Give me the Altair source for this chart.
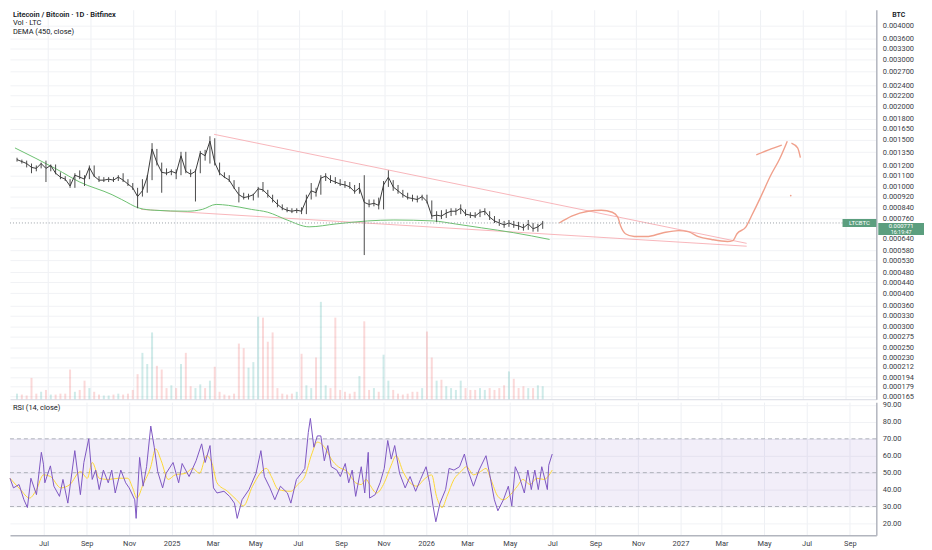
import altair as alt
import pandas as pd

FONT = "Roboto"
W, H1, H2 = 872, 392, 134
START = pd.Timestamp("2024-05-14")
END = pd.Timestamp("2027-10-09")

# ---- weekly candles (LTC/BTC) ----
close = [0.001265,0.001244,0.001223,0.001183,0.001173,0.001223,0.001173,0.001203,0.001125,0.001088,
         0.001069,0.001008,0.001106,0.001088,0.001069,0.001183,0.001097,0.001060,0.001060,0.001069,
         0.001060,0.001088,0.001060,0.001025,0.000992,0.000920,0.000967,0.001088,0.001387,0.001233,
         0.001134,0.001125,0.001144,0.001125,0.001308,0.001144,0.001115,0.001144,0.001341,0.001308,
         0.001483,0.001233,0.001125,0.001088,0.001060,0.000992,0.000935,0.000912,0.000920,0.000935,
         0.000984,0.000975,0.000935,0.000897,0.000860,0.000832,0.000818,0.000811,0.000818,0.000811,
         0.000897,0.000967,0.000951,0.001079,0.001097,0.001060,0.001043,0.001025,0.001017,0.001000,
         0.000959,0.000992,0.000875,0.000860,0.000868,0.000853,0.001017,0.001088,0.001000,0.000967,
         0.000935,0.000912,0.000905,0.000897,0.000920,0.000882,0.000778,0.000784,0.000778,0.000798,
         0.000811,0.000811,0.000832,0.000791,0.000784,0.000778,0.000804,0.000811,0.000771,0.000746,
         0.000733,0.000721,0.000733,0.000721,0.000715,0.000703,0.000727,0.000697,0.000709,0.000733]
high = [0.001286,0.001265,0.001254,0.001223,0.001203,0.001233,0.001254,0.001213,0.001213,0.001134,
        0.001097,0.001069,0.001125,0.001153,0.001106,0.001203,0.001203,0.001097,0.001088,0.001088,
        0.001088,0.001106,0.001125,0.001069,0.001034,0.000992,0.001069,0.001106,0.001458,0.001387,
        0.001233,0.001173,0.001163,0.001163,0.001353,0.001353,0.001163,0.001163,0.001364,0.001376,
        0.001547,0.001521,0.001233,0.001134,0.001106,0.001060,0.001000,0.000951,0.000943,0.000943,
        0.001000,0.001043,0.000975,0.000935,0.000897,0.000860,0.000839,0.000832,0.000832,0.000839,
        0.000935,0.001034,0.000992,0.001106,0.001125,0.001106,0.001088,0.001069,0.001052,0.001043,
        0.001017,0.001034,0.001106,0.000897,0.000897,0.000912,0.001052,0.001153,0.001060,0.001017,
        0.000975,0.000951,0.000935,0.000928,0.000935,0.000935,0.000890,0.000811,0.000818,0.000824,
        0.000832,0.000832,0.000860,0.000824,0.000804,0.000804,0.000824,0.000832,0.000811,0.000778,
        0.000758,0.000746,0.000752,0.000746,0.000740,0.000727,0.000752,0.000733,0.000727,0.000746]
low = [0.001244,0.001223,0.001183,0.001125,0.001144,0.001173,0.001043,0.001144,0.001115,0.001069,
       0.001052,0.000992,0.000992,0.001069,0.001008,0.001069,0.001088,0.001043,0.001043,0.001043,
       0.001043,0.001052,0.001043,0.001008,0.000975,0.000832,0.000920,0.000951,0.001060,0.001203,
       0.000951,0.001106,0.001106,0.001069,0.001106,0.001125,0.001088,0.000882,0.001125,0.001254,
       0.001223,0.001203,0.001106,0.001079,0.001043,0.000984,0.000875,0.000897,0.000897,0.000890,
       0.000912,0.000959,0.000912,0.000875,0.000839,0.000818,0.000804,0.000798,0.000798,0.000791,
       0.000791,0.000897,0.000920,0.000935,0.001052,0.001034,0.001025,0.001008,0.000992,0.000984,
       0.000943,0.000943,0.000556,0.000839,0.000846,0.000824,0.000824,0.001000,0.000967,0.000943,
       0.000912,0.000897,0.000882,0.000875,0.000890,0.000868,0.000758,0.000740,0.000758,0.000765,
       0.000778,0.000784,0.000791,0.000778,0.000765,0.000765,0.000771,0.000784,0.000752,0.000733,
       0.000715,0.000703,0.000709,0.000703,0.000691,0.000686,0.000691,0.000680,0.000680,0.000697]
volume = [6,5,4,23,6,8,10,5,5,6,
          6,32,8,10,20,12,8,5,4,4,
          5,6,5,6,10,27,50,38,72,36,
          32,12,15,12,38,50,14,12,16,12,
          20,35,8,5,4,6,60,55,34,40,
          89,88,62,72,12,6,5,6,8,49,
          15,12,45,105,15,12,88,10,8,6,
          8,25,84,10,12,8,48,20,10,6,
          5,6,8,8,12,73,45,20,21,14,
          12,10,20,12,10,10,12,10,12,10,
          12,15,30,22,12,14,12,12,15,14]

# ---- DEMA (450) ----
dema_days = [0,61,94,141,155,181,202,250,272,292,310,343,367,395,427,466,512,550,607,639,677,724,776]
dema_vals = [0.001399,0.001163,0.001043,0.000935,0.000897,0.000832,0.000818,0.000811,0.000824,0.000860,
             0.000853,0.000824,0.000804,0.000752,0.000709,0.000727,0.000746,0.000752,0.000746,0.000727,
             0.000703,0.000674,0.000636]

# ---- drawings ----
upper_dates = ["2025-02-27", "2027-04-11"]
upper_prices = [0.001573, 0.000615]
lower_dates = ["2024-11-13", "2027-04-11"]
lower_prices = [0.000824, 0.000600]
path_dates = ["2026-07-13","2026-07-31","2026-08-24","2026-09-12","2026-09-28","2026-10-06","2026-10-10",
              "2026-10-17","2026-10-30","2026-11-17","2026-12-11","2027-01-02","2027-01-16","2027-01-31",
              "2027-02-19","2027-03-14","2027-03-22","2027-03-28","2027-04-10","2027-04-18","2027-05-01",
              "2027-05-16","2027-05-29","2027-06-09"]
path_prices = [0.000733,0.000778,0.000811,0.000818,0.000804,0.000771,0.000715,0.000668,0.000652,0.000652,
               0.000674,0.000686,0.000680,0.000652,0.000636,0.000625,0.000630,0.000668,0.000709,0.000778,
               0.000912,0.001106,0.001275,0.001483]
arrow_l_dates = ["2027-04-25", "2027-05-13", "2027-06-01"]
arrow_l_prices = [0.001319, 0.001376, 0.001434]
arrow_r_dates = ["2027-06-15", "2027-06-24", "2027-06-28"]
arrow_r_prices = [0.001458, 0.001399, 0.001286]
dot_dates = ["2027-06-14"]
dot_prices = [0.000928]

# ---- RSI (14) and its MA ----
rsi_days = [0,5,13,20,25,30,38,45,48,50,58,63,71,76,83,93,101,106,113,118,
            123,128,134,141,146,151,159,166,171,179,181,186,191,196,202,207,212,219,224,234,
            242,247,257,267,275,280,287,292,297,307,315,322,326,333,343,353,360,365,373,380,
            388,398,403,411,418,423,428,431,436,441,446,451,456,461,469,474,481,486,491,496,
            504,509,514,516,524,531,537,542,547,552,559,567,574,582,589,597,602,607,611,617,
            625,630,637,645,652,657,665,673,683,688,695,700,708,715,720,725,730,738,743,748,
            753,758,763,771,773,778]
rsi_vals = [46.7,41,43,34,29.4,46.7,37,62,55,44,54,42,36,46,32,63,37,56,70,46,
            51.5,40,51.5,44,51.5,38,51.5,44,41,34,23,59,42,53.5,77.5,65,50.5,41,49.6,56,
            44,55.4,47.7,57,67,56,66,41,38,39,36,32,23,34,40,49.6,63,47.7,41,34,
            42,38,32,46,49.6,52.5,73.7,82,65,71.7,71.7,57,66,53.5,51.5,47.7,55.4,44,51.5,36,
            53.5,38,62,35,37,44,52.5,69,58,66,49.6,41,47.7,39,46,53.5,44,30.4,21,32,
            40,52.5,51.5,53.5,61,51.5,42,51.5,60,49.6,34,27.5,34,42,30.4,53.5,48.7,38,51.5,40,
            51.5,40,53.5,40,54.4,61]
ma_days = [0,15,28,38,48,58,73,86,101,111,118,128,141,156,169,176,182,191,202,209,
           217,227,237,252,262,272,282,290,297,312,325,335,348,368,375,385,403,413,423,433,
           441,453,461,471,484,496,504,511,516,526,537,547,554,564,574,584,594,605,612,620,
           627,637,647,655,665,675,683,690,700,708,718,728,736,746,756,766,778]
ma_vals = [46.7,40,35,40,48.7,47.7,41,43,50.6,46.7,56,46.7,46,46.7,46.7,41,35,43,53.5,64,
           57,46,48.7,49.6,52.5,49.6,60,55.4,44,39,34,30.4,42,52.5,47.7,40,39,43,47.7,61,
           68,64,58,53.5,50.6,44,43,46,43,38,44,54.4,60,50.6,44,42,46,48.7,36,29.4,
           36,46,50.6,53.5,48.7,50.6,52.5,46,36,34,37,42,46,43,46.7,46,51.5]

price_ticks = [0.004, 0.0036, 0.0033, 0.003, 0.0027, 0.0024, 0.0022, 0.002, 0.0018, 0.00165, 0.0015,
               0.00135, 0.0012, 0.0011, 0.001, 0.00092, 0.00084, 0.00076, 0.00064, 0.00058, 0.00053,
               0.00048, 0.00044, 0.0004, 0.00036, 0.00033, 0.0003, 0.000275, 0.00025, 0.00023,
               0.000212, 0.000194, 0.000179, 0.000165]
rsi_ticks = [20, 30, 40, 50, 60, 70, 80, 90]
last_price_label = "0.000771"
countdown_label = "16:19:47"


def ms(ts):
    return int(pd.Timestamp(ts).value // 10**6)


def day_str(offsets):
    return [(START + pd.Timedelta(days=int(d))).strftime("%Y-%m-%d") for d in offsets]


month_ticks = [ms(d) for d in pd.date_range("2024-07-01", "2027-09-01", freq="2MS")]

xsc = alt.Scale(type="utc", domain=[ms(START), ms(END)], nice=False)
ysc = alt.Scale(type="log", domain=[0.0001606, 0.0046], nice=False)
rsc = alt.Scale(domain=[13, 91.6], nice=False, zero=False)

x_axis_main = alt.Axis(values=month_ticks, labels=False, ticks=False, domain=True,
                       domainColor="#d8dbe3", grid=True, gridColor="#eef0f4", title=None)
x_axis_rsi = alt.Axis(values=month_ticks, ticks=False, domain=True, domainColor="#b2b5be",
                      domainWidth=1.5, grid=True, gridColor="#eef0f4", title=None,
                      labelFont=FONT, labelFontSize=7.5, labelColor="#3b3e47", labelPadding=4,
                      labelOverlap=False,
                      labelExpr="utcFormat(datum.value, '%m') == '01' ? utcFormat(datum.value, '%Y') : utcFormat(datum.value, '%b')")
price_axis = alt.Axis(orient="right", values=price_ticks, format=".6f", ticks=False, domain=True,
                      domainColor="#b2b5be", domainWidth=1.5, grid=True, gridColor="#f1f2f5",
                      labelFont=FONT, labelFontSize=7.5, labelColor="#3b3e47", labelPadding=6,
                      labelOverlap=False, title=None)
rsi_axis = alt.Axis(orient="right", values=rsi_ticks, format=".2f", ticks=False, domain=True,
                    domainColor="#b2b5be", domainWidth=1.5, grid=True, gridColor="#f1f2f5",
                    labelFont=FONT, labelFontSize=7.5, labelColor="#3b3e47", labelPadding=6,
                    labelOverlap=False, title=None)


def X(field="date"):
    return alt.X(f"{field}:T", scale=xsc, axis=x_axis_main)


def Y(field):
    return alt.Y(f"{field}:Q", scale=ysc, axis=price_axis)


week_dates = [(START + pd.Timedelta(days=7 * i + 3)).strftime("%Y-%m-%d") for i in range(len(close))]
direction = ["up"] + ["up" if close[i] >= close[i - 1] else "down" for i in range(1, len(close))]
cdf = pd.DataFrame({"date": week_dates, "hi": high, "lo": low, "close": close,
                    "vol": volume, "dir": direction})

vol_layer = alt.Chart(cdf).mark_bar(size=2, opacity=0.22).encode(
    x=X(),
    y=alt.Y("vol:Q", scale=alt.Scale(domain=[0, 420], nice=False), axis=None),
    color=alt.Color("dir:N", scale=alt.Scale(domain=["up", "down"], range=["#26a69a", "#ef5350"]),
                    legend=None),
)
wicks = alt.Chart(cdf).mark_rule(color="#4a4a4a", strokeWidth=1).encode(
    x=X(), y=Y("lo"), y2="hi")
closes = alt.Chart(cdf).mark_line(color="#3a3a3a", strokeWidth=1).encode(x=X(), y=Y("close"))

dema_df = pd.DataFrame({"date": day_str(dema_days), "v": dema_vals})
dema = alt.Chart(dema_df).mark_line(color="#6cc070", strokeWidth=1, interpolate="monotone").encode(
    x=X(), y=Y("v"))

trend_df = pd.DataFrame({"date": upper_dates + lower_dates, "p": upper_prices + lower_prices,
                         "k": ["u", "u", "l", "l"]})
trends = alt.Chart(trend_df).mark_line(color="#f7a8ae", strokeWidth=1, opacity=0.85).encode(
    x=X(), y=Y("p"), detail="k:N")

path_df = pd.DataFrame({"date": path_dates + arrow_l_dates + arrow_r_dates,
                        "p": path_prices + arrow_l_prices + arrow_r_prices,
                        "k": ["a"] * len(path_dates) + ["b"] * len(arrow_l_dates) + ["c"] * len(arrow_r_dates)})
path = alt.Chart(path_df).mark_line(color="#f0a08c", strokeWidth=1.4, interpolate="monotone").encode(
    x=X(), y=Y("p"), detail="k:N")
dot = alt.Chart(pd.DataFrame({"date": dot_dates, "p": dot_prices})).mark_circle(
    size=3, color="#f0a08c", opacity=1).encode(x=X(), y=Y("p"))

last_df = pd.DataFrame({"close": [close[-1]], "t1": [last_price_label], "t2": [countdown_label],
                        "sym": ["LTCBTC"]})
price_line = alt.Chart(last_df).mark_rule(strokeDash=[1, 2], color="#9aa0a6", strokeWidth=1).encode(
    y=Y("close"), x=alt.value(0), x2=alt.value(W))
tag_r = alt.Chart(last_df).mark_tick(orient="horizontal", size=46, thickness=12, color="#5b9e7e",
                                     opacity=1, yOffset=6).encode(y=Y("close"), x=alt.value(W + 25))
tag_r1 = alt.Chart(last_df).mark_text(color="white", fontSize=6, font=FONT, dy=3).encode(
    y=Y("close"), x=alt.value(W + 25), text="t1:N")
tag_r2 = alt.Chart(last_df).mark_text(color="white", fontSize=5.5, font=FONT, dy=9).encode(
    y=Y("close"), x=alt.value(W + 25), text="t2:N")
tag_l = alt.Chart(last_df).mark_tick(orient="horizontal", size=34, thickness=8, color="#5b9e7e",
                                     opacity=1).encode(y=Y("close"), x=alt.value(W - 17))
tag_l1 = alt.Chart(last_df).mark_text(color="white", fontSize=6, font=FONT).encode(
    y=Y("close"), x=alt.value(W - 17), text="sym:N")

one = pd.DataFrame({"a": [0]})


def label(text, x, y, size=7.5, weight="normal", color="#131722", align="left"):
    return alt.Chart(one).mark_text(text=text, fontSize=size, fontWeight=weight, color=color,
                                    font=FONT, align=align, baseline="middle").encode(
        x=alt.value(x), y=alt.value(y))


main = alt.layer(
    vol_layer,
    alt.layer(trends, dema, wicks, closes, path, dot, price_line, tag_l, tag_l1,
              tag_r, tag_r1, tag_r2),
    label("Litecoin / Bitcoin · 1D · Bitfinex", 3, 5, weight=600),
    label("Vol · LTC", 3, 13),
    label("DEMA (450, close)", 3, 22),
    label("BTC", W + 16, 5, size=7, weight=600),
).resolve_scale(y="independent", color="independent").properties(width=W, height=H1)

band_df = pd.DataFrame({"lo": [30], "hi": [70]})
band = alt.Chart(band_df).mark_rect(color="#7e57c2", opacity=0.1).encode(
    y=alt.Y("lo:Q", scale=rsc, axis=rsi_axis), y2="hi", x=alt.value(0), x2=alt.value(W))
lvl_df = pd.DataFrame({"lvl": [30, 50, 70]})
levels = alt.Chart(lvl_df).mark_rule(strokeDash=[4, 3], color="#9598a1", opacity=0.7).encode(
    y=alt.Y("lvl:Q", scale=rsc, axis=rsi_axis), x=alt.value(0), x2=alt.value(W))
rsi_df = pd.DataFrame({"date": day_str(rsi_days), "v": rsi_vals})
ma_df = pd.DataFrame({"date": day_str(ma_days), "v": ma_vals})
rsi_line = alt.Chart(rsi_df).mark_line(color="#7e57c2", strokeWidth=1).encode(
    x=alt.X("date:T", scale=xsc, axis=x_axis_rsi), y=alt.Y("v:Q", scale=rsc, axis=rsi_axis))
ma_line = alt.Chart(ma_df).mark_line(color="#fdd835", strokeWidth=1, interpolate="monotone").encode(
    x=alt.X("date:T", scale=xsc, axis=x_axis_rsi), y=alt.Y("v:Q", scale=rsc, axis=rsi_axis))

rsi = alt.layer(band, levels, ma_line, rsi_line, label("RSI (14, close)", 3, 6)).properties(
    width=W, height=H2)

chart = alt.vconcat(main, rsi, spacing=0, padding=0).resolve_scale(
    y="independent", color="independent").configure_view(stroke=None)

chart.save("out.html", embed_options={"renderer": "svg", "actions": False})
